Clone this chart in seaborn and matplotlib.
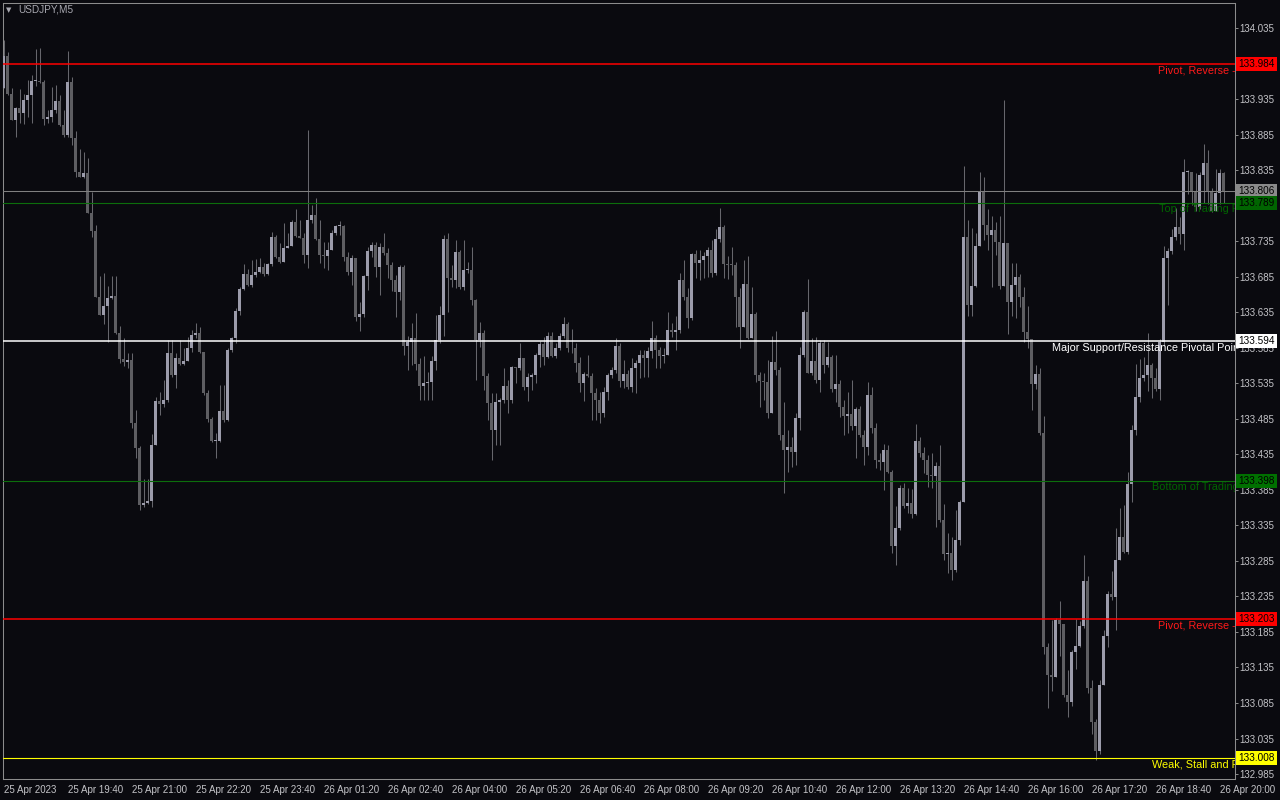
import numpy as np
import pandas as pd
import matplotlib
matplotlib.use("Agg")
import matplotlib.pyplot as plt
import matplotlib.transforms as mtransforms
import seaborn as sns

# chart data (USDJPY M5)
SYMBOL = "USDJPY,M5"
OPEN_FIRST = 133.950

CLOSES = [
    133.996, 133.942, 133.905, 133.922, 133.915, 133.934, 133.941, 133.960, 133.960, 133.959,
    133.907, 133.910, 133.920, 133.932, 133.899, 133.884, 133.959, 133.880, 133.832, 133.825,
    133.831, 133.775, 133.749, 133.656, 133.631, 133.644, 133.655, 133.658, 133.606, 133.569,
    133.565, 133.568, 133.479, 133.444, 133.364, 133.366, 133.369, 133.448, 133.510, 133.506,
    133.511, 133.578, 133.547, 133.571, 133.562, 133.566, 133.585, 133.603, 133.606, 133.579,
    133.521, 133.485, 133.454, 133.454, 133.496, 133.483, 133.582, 133.599, 133.637, 133.668,
    133.689, 133.673, 133.687, 133.692, 133.699, 133.689, 133.703, 133.741, 133.713, 133.706,
    133.725, 133.728, 133.762, 133.742, 133.739, 133.716, 133.765, 133.772, 133.738, 133.716,
    133.714, 133.723, 133.747, 133.756, 133.757, 133.713, 133.692, 133.711, 133.628, 133.633,
    133.686, 133.721, 133.730, 133.699, 133.727, 133.718, 133.701, 133.680, 133.663, 133.699,
    133.587, 133.593, 133.599, 133.562, 133.531, 133.535, 133.537, 133.566, 133.596, 133.631,
    133.738, 133.683, 133.680, 133.720, 133.670, 133.694, 133.695, 133.652, 133.596, 133.606,
    133.545, 133.507, 133.469, 133.509, 133.511, 133.531, 133.511, 133.558, 133.556, 133.571,
    133.530, 133.544, 133.547, 133.575, 133.590, 133.572, 133.601, 133.573, 133.585, 133.601,
    133.618, 133.585, 133.584, 133.563, 133.535, 133.548, 133.545, 133.521, 133.511, 133.493,
    133.523, 133.547, 133.554, 133.587, 133.538, 133.548, 133.530, 133.556, 133.563, 133.575,
    133.571, 133.580, 133.599, 133.582, 133.573, 133.575, 133.610, 133.607, 133.610, 133.680,
    133.656, 133.627, 133.717, 133.704, 133.708, 133.714, 133.723, 133.690, 133.738, 133.755,
    133.703, 133.702, 133.701, 133.656, 133.614, 133.675, 133.599, 133.633, 133.547, 133.538,
    133.537, 133.493, 133.565, 133.554, 133.462, 133.441, 133.445, 133.438, 133.486, 133.575,
    133.635, 133.549, 133.566, 133.540, 133.592, 133.561, 133.572, 133.527, 133.534, 133.502,
    133.489, 133.492, 133.475, 133.499, 133.462, 133.445, 133.518, 133.472, 133.427, 133.424,
    133.441, 133.410, 133.306, 133.331, 133.388, 133.362, 133.366, 133.351, 133.454, 133.437,
    133.427, 133.406, 133.405, 133.419, 133.343, 133.295, 133.296, 133.272, 133.314, 133.368,
    133.741, 133.645, 133.672, 133.728, 133.806, 133.758, 133.744, 133.751, 133.734, 133.672,
    133.732, 133.649, 133.673, 133.685, 133.656, 133.607, 133.597, 133.534, 133.548, 133.465,
    133.164, 133.124, 133.122, 133.202, 133.196, 133.096, 133.086, 133.157, 133.165, 133.193,
    133.257, 133.106, 133.058, 133.017, 133.110, 133.179, 133.238, 133.234, 133.286, 133.319,
    133.298, 133.393, 133.469, 133.516, 133.542, 133.547, 133.561, 133.542, 133.527, 133.593,
    133.711, 133.721, 133.741, 133.755, 133.745, 133.832, 133.833, 133.804, 133.783, 133.828,
    133.845, 133.804, 133.777, 133.803, 133.831, 133.806,
]

HIGHS = [
    134.018, 134.001, 133.950, 133.924, 133.949, 133.942, 133.962, 133.969, 134.005, 134.007,
    133.962, 133.920, 133.952, 133.955, 133.941, 133.920, 134.003, 133.966, 133.890, 133.865,
    133.860, 133.852, 133.804, 133.758, 133.686, 133.690, 133.672, 133.686, 133.686, 133.616,
    133.599, 133.578, 133.578, 133.497, 133.447, 133.400, 133.400, 133.464, 133.516, 133.523,
    133.540, 133.596, 133.596, 133.578, 133.596, 133.585, 133.600, 133.610, 133.620, 133.614,
    133.579, 133.526, 133.487, 133.465, 133.533, 133.533, 133.585, 133.600, 133.641, 133.670,
    133.703, 133.696, 133.708, 133.710, 133.711, 133.704, 133.704, 133.748, 133.744, 133.732,
    133.761, 133.747, 133.765, 133.780, 133.765, 133.747, 133.891, 133.786, 133.796, 133.765,
    133.734, 133.734, 133.751, 133.758, 133.763, 133.758, 133.720, 133.716, 133.706, 133.649,
    133.687, 133.727, 133.734, 133.734, 133.732, 133.747, 133.725, 133.706, 133.687, 133.701,
    133.701, 133.602, 133.620, 133.634, 133.571, 133.573, 133.551, 133.573, 133.631, 133.644,
    133.744, 133.747, 133.701, 133.737, 133.723, 133.737, 133.706, 133.727, 133.654, 133.621,
    133.610, 133.549, 133.521, 133.521, 133.514, 133.556, 133.540, 133.559, 133.558, 133.592,
    133.571, 133.549, 133.549, 133.578, 133.594, 133.600, 133.607, 133.607, 133.592, 133.606,
    133.628, 133.621, 133.611, 133.592, 133.572, 133.551, 133.575, 133.549, 133.528, 133.523,
    133.530, 133.549, 133.558, 133.599, 133.592, 133.568, 133.554, 133.571, 133.568, 133.582,
    133.582, 133.586, 133.623, 133.603, 133.586, 133.585, 133.635, 133.620, 133.630, 133.690,
    133.708, 133.669, 133.718, 133.723, 133.723, 133.720, 133.727, 133.737, 133.752, 133.782,
    133.758, 133.714, 133.727, 133.706, 133.669, 133.708, 133.714, 133.670, 133.635, 133.551,
    133.549, 133.568, 133.602, 133.609, 133.558, 133.509, 133.469, 133.459, 133.493, 133.586,
    133.638, 133.682, 133.599, 133.600, 133.596, 133.596, 133.593, 133.575, 133.575, 133.540,
    133.511, 133.523, 133.540, 133.502, 133.503, 133.469, 133.537, 133.530, 133.479, 133.437,
    133.450, 133.448, 133.413, 133.362, 133.392, 133.395, 133.388, 133.386, 133.478, 133.459,
    133.445, 133.434, 133.437, 133.424, 133.448, 133.365, 133.324, 133.319, 133.357, 133.371,
    133.841, 133.765, 133.753, 133.747, 133.832, 133.825, 133.780, 133.770, 133.762, 133.770,
    133.934, 133.704, 133.704, 133.704, 133.689, 133.670, 133.644, 133.597, 133.561, 133.556,
    133.489, 133.169, 133.202, 133.205, 133.228, 133.190, 133.131, 133.160, 133.203, 133.200,
    133.293, 133.264, 133.117, 133.062, 133.117, 133.188, 133.243, 133.271, 133.331, 133.359,
    133.364, 133.410, 133.476, 133.562, 133.569, 133.572, 133.606, 133.564, 133.557, 133.597,
    133.728, 133.725, 133.752, 133.782, 133.769, 133.851, 133.835, 133.832, 133.831, 133.832,
    133.872, 133.863, 133.810, 133.837, 133.837, 133.832,
]

LOWS = [
    133.950, 133.941, 133.905, 133.881, 133.901, 133.900, 133.910, 133.901, 133.953, 133.958,
    133.899, 133.901, 133.903, 133.915, 133.897, 133.881, 133.881, 133.870, 133.825, 133.825,
    133.824, 133.775, 133.741, 133.656, 133.631, 133.618, 133.593, 133.654, 133.604, 133.564,
    133.559, 133.556, 133.472, 133.430, 133.357, 133.361, 133.365, 133.361, 133.448, 133.490,
    133.502, 133.509, 133.544, 133.528, 133.561, 133.561, 133.566, 133.579, 133.599, 133.578,
    133.519, 133.480, 133.452, 133.430, 133.452, 133.480, 133.482, 133.579, 133.592, 133.631,
    133.666, 133.672, 133.670, 133.685, 133.690, 133.686, 133.687, 133.700, 133.711, 133.704,
    133.706, 133.725, 133.737, 133.741, 133.739, 133.704, 133.697, 133.761, 133.737, 133.704,
    133.697, 133.694, 133.725, 133.744, 133.744, 133.707, 133.687, 133.673, 133.623, 133.609,
    133.628, 133.666, 133.713, 133.685, 133.659, 133.716, 133.683, 133.665, 133.628, 133.652,
    133.575, 133.554, 133.561, 133.554, 133.511, 133.511, 133.511, 133.511, 133.554, 133.592,
    133.602, 133.635, 133.670, 133.669, 133.667, 133.666, 133.690, 133.645, 133.540, 133.586,
    133.526, 133.483, 133.427, 133.448, 133.448, 133.507, 133.493, 133.507, 133.535, 133.554,
    133.526, 133.510, 133.526, 133.535, 133.558, 133.561, 133.571, 133.572, 133.571, 133.582,
    133.599, 133.579, 133.578, 133.551, 133.523, 133.510, 133.544, 133.483, 133.483, 133.479,
    133.487, 133.511, 133.542, 133.549, 133.530, 133.528, 133.527, 133.523, 133.521, 133.542,
    133.544, 133.544, 133.571, 133.556, 133.556, 133.563, 133.582, 133.600, 133.582, 133.606,
    133.652, 133.613, 133.624, 133.683, 133.680, 133.683, 133.685, 133.685, 133.687, 133.734,
    133.683, 133.682, 133.687, 133.614, 133.585, 133.614, 133.597, 133.599, 133.537, 133.502,
    133.511, 133.486, 133.493, 133.547, 133.455, 133.381, 133.410, 133.417, 133.420, 133.469,
    133.572, 133.549, 133.547, 133.535, 133.523, 133.549, 133.558, 133.523, 133.509, 133.487,
    133.462, 133.465, 133.469, 133.430, 133.459, 133.420, 133.434, 133.465, 133.416, 133.413,
    133.385, 133.409, 133.296, 133.279, 133.328, 133.359, 133.352, 133.345, 133.350, 133.431,
    133.409, 133.389, 133.388, 133.333, 133.340, 133.286, 133.268, 133.258, 133.269, 133.307,
    133.368, 133.630, 133.630, 133.670, 133.728, 133.737, 133.723, 133.670, 133.716, 133.667,
    133.673, 133.604, 133.630, 133.627, 133.642, 133.593, 133.585, 133.497, 133.527, 133.462,
    133.154, 133.078, 133.102, 133.123, 133.151, 133.093, 133.065, 133.081, 133.133, 133.164,
    133.190, 133.099, 133.041, 133.005, 133.013, 133.110, 133.164, 133.230, 133.188, 133.289,
    133.296, 133.294, 133.368, 133.462, 133.509, 133.538, 133.524, 133.514, 133.524, 133.511,
    133.587, 133.645, 133.717, 133.737, 133.731, 133.723, 133.801, 133.786, 133.777, 133.780,
    133.789, 133.787, 133.776, 133.777, 133.787, 133.789,
]

TIME_LABELS = [
    "25 Apr 2023", "25 Apr 19:40", "25 Apr 21:00", "25 Apr 22:20", "25 Apr 23:40",
    "26 Apr 01:20", "26 Apr 02:40", "26 Apr 04:00", "26 Apr 05:20", "26 Apr 06:40",
    "26 Apr 08:00", "26 Apr 09:20", "26 Apr 10:40", "26 Apr 12:00", "26 Apr 13:20",
    "26 Apr 14:40", "26 Apr 16:00", "26 Apr 17:20", "26 Apr 18:40", "26 Apr 20:00",
]
BARS_PER_LABEL = 16

# support / resistance levels drawn by the indicator
LEVEL_PRICES = [133.984, 133.789, 133.594, 133.398, 133.203, 133.008]
LEVEL_TEXTS = [
    "Pivot, Reverse - Major",
    "Top of Trading Range",
    "Major Support/Resistance Pivotal Point",
    "Bottom of Trading Range",
    "Pivot, Reverse - Minor",
    "Weak, Stall and Reverse",
]

# styles
BG = "#0a0a0f"
FRAME = "#8c8c8c"
AXIS_TEXT = "#c4c4c8"
UP_BODY = "#9c9cab"
DOWN_BODY = "#5e5e62"
WICK = "#66666c"
BID_COLOR = "#808080"
LEVEL_LINE_COLORS = ["#ff0000", "#0c6e0c", "#ffffff", "#0c6e0c", "#ff0000", "#ffff00"]
LEVEL_TEXT_COLORS = ["#ff1a1a", "#006400", "#ffffff", "#006400", "#ff1a1a", "#ffff00"]
LEVEL_BOX_COLORS = ["#ff0000", "#006400", "#ffffff", "#007000", "#ff0000", "#ffff00"]
LEVEL_WIDTHS = [1.1, 0.8, 1.1, 0.8, 1.1, 0.8]
LEVEL_TEXT_X = [0.9375, 0.9383, 0.8515, 0.9326, 0.9375, 0.9326]  # axes fraction
LABEL_SIZE = 7.0
LEVEL_FONT = 7.8

sns.set_theme(style="dark", rc={
    "axes.facecolor": BG,
    "figure.facecolor": BG,
    "axes.edgecolor": FRAME,
    "axes.grid": False,
    "xtick.color": FRAME,
    "ytick.color": FRAME,
    "xtick.labelcolor": AXIS_TEXT,
    "ytick.labelcolor": AXIS_TEXT,
})
plt.rcParams["font.family"] = ["Liberation Sans", "DejaVu Sans"]

# build OHLC frame; each bar opens at the previous close
df = pd.DataFrame({"close": CLOSES, "high": HIGHS, "low": LOWS})
df["open"] = [OPEN_FIRST] + CLOSES[:-1]
df["bar"] = np.arange(len(df))
df["up"] = df["close"] >= df["open"]
df["body_lo"] = df[["open", "close"]].min(axis=1)
df["body_h"] = (df["close"] - df["open"]).abs().clip(lower=0.0012)
df["wick_lo"] = df[["low", "open", "close"]].min(axis=1)
df["wick_hi"] = df[["high", "open", "close"]].max(axis=1)

fig = plt.figure(figsize=(12.8, 8), dpi=100)
ax = fig.add_axes([3 / 1280, 21 / 800, 1232 / 1280, 776 / 800])

ax.vlines(df["bar"], df["wick_lo"], df["wick_hi"], color=WICK, lw=0.75, zorder=2)
up = df[df["up"]]
dn = df[~df["up"]]
ax.bar(up["bar"], up["body_h"], bottom=up["body_lo"], width=0.75,
       color=UP_BODY, linewidth=0, zorder=3)
ax.bar(dn["bar"], dn["body_h"], bottom=dn["body_lo"], width=0.75,
       color=DOWN_BODY, linewidth=0, zorder=3)

ax.set_xlim(-0.125, 307.875)
ax.set_ylim(132.978, 134.0702)

# level lines with labels under them
trans = mtransforms.blended_transform_factory(ax.transAxes, ax.transData)
for price, text, lc, tc, lw, tx in zip(LEVEL_PRICES, LEVEL_TEXTS, LEVEL_LINE_COLORS,
                                       LEVEL_TEXT_COLORS, LEVEL_WIDTHS, LEVEL_TEXT_X):
    ax.axhline(price, color=lc, lw=lw, zorder=4)
    ax.annotate(text, xy=(tx, price), xycoords=trans, xytext=(0, -1.2),
                textcoords="offset points", ha="left", va="top",
                fontsize=LEVEL_FONT, color=tc, clip_on=True, zorder=5,
                annotation_clip=False)

bid = CLOSES[-1]
ax.axhline(bid, color=BID_COLOR, lw=0.75, zorder=4)

# right price scale (the 133.985 label sits fully under the red price box)
yticks = np.round(np.arange(132.985, 134.036, 0.05), 3)
ax.yaxis.tick_right()
ax.set_yticks(yticks)
ax.set_yticklabels(["" if abs(v - 133.985) < 1e-6 else f"{v:.3f}" for v in yticks])
ax.tick_params(axis="y", direction="out", length=2.2, width=0.7, pad=1.2,
               labelsize=LABEL_SIZE)

# bottom time scale
ax.set_xticks(np.arange(len(TIME_LABELS)) * BARS_PER_LABEL)
ax.set_xticklabels(TIME_LABELS, ha="left")
ax.tick_params(axis="x", direction="out", length=3, width=0.7, pad=1.5,
               labelsize=LABEL_SIZE)

for sp in ax.spines.values():
    sp.set_color(FRAME)
    sp.set_linewidth(0.75)

# price boxes on the scale
box_prices = [bid] + LEVEL_PRICES
box_colors = ["#8a8a8a"] + LEVEL_BOX_COLORS
for price, bc in zip(box_prices, box_colors):
    ax.text(1.0028, price, f"{price:.3f}", transform=trans, ha="left", va="center",
            fontsize=LABEL_SIZE + 0.2, color="#000000", clip_on=False, zorder=10,
            bbox=dict(boxstyle="square,pad=0.2", fc=bc, ec="none"))

# symbol caption
fig.text(6 / 1280, 1 - 10 / 800, "\u25bc", fontsize=5, color="#a8a8b0", va="center",
         family=["DejaVu Sans"])
fig.text(18 / 1280, 1 - 10 / 800, SYMBOL, fontsize=7.2, color="#a8a8b0", va="center")

fig.savefig("out.png", dpi=100, facecolor=BG)
